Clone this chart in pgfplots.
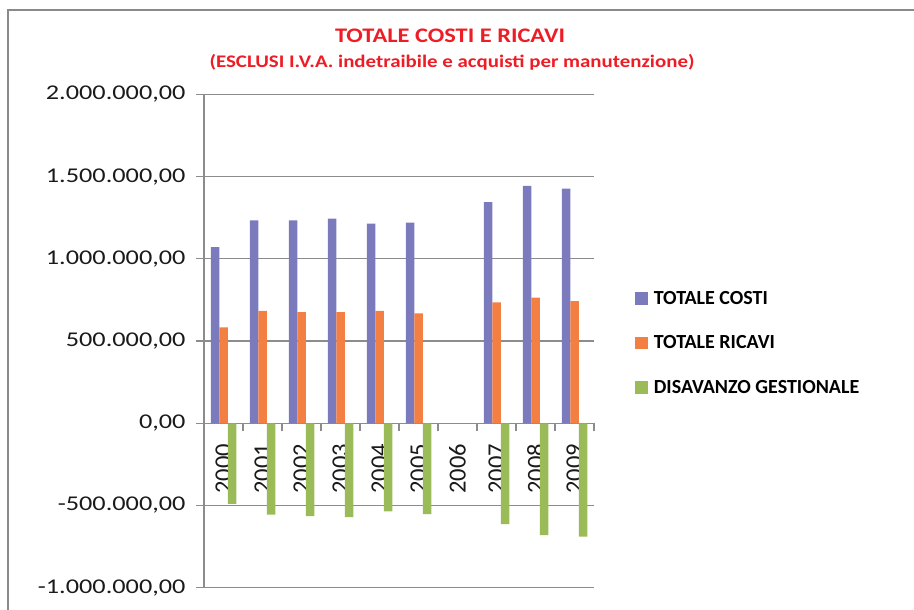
\documentclass[border=0pt]{standalone}
\usepackage{pgfplots}
\pgfplotsset{compat=1.18}
\usepackage{fontspec}
\setmainfont{Carlito}
\newfontfamily\ylabfont{Carlito}[FakeStretch=1.25]
\newfontfamily\titlefont{Carlito}[FakeStretch=1.18]
\definecolor{cblue}{HTML}{7A7ABD}
\definecolor{corange}{HTML}{F47F43}
\definecolor{cgreen}{HTML}{9BBB59}
\definecolor{gridgray}{HTML}{8C8C8C}
\definecolor{titlered}{HTML}{EE1C25}
\definecolor{framegray}{HTML}{8A8A8A}
\definecolor{labelblack}{HTML}{1A1A1A}
\begin{document}
\begin{tikzpicture}
\useasboundingbox (0bp,0bp) rectangle (914bp,610bp);
\draw[line width=2bp, framegray] (8bp,0bp) -- (8bp,600bp) -- (914bp,600bp);
\node[text=titlered, font=\titlefont\bfseries\fontsize{20.7bp}{24bp}\selectfont] at (450bp,574bp) {TOTALE COSTI E RICAVI};
\node[text=titlered, font=\titlefont\bfseries\fontsize{17.7bp}{21bp}\selectfont] at (452bp,548bp) {(ESCLUSI I.V.A. indetraibile e acquisti per manutenzione)};
\begin{axis}[
  at={(204bp,22.3bp)}, anchor=south west,
  scale only axis, width=390bp, height=493.2bp,
  ymin=-1000000, ymax=2000000,
  ytick={-1000000,-500000,0,500000,1000000,1500000,2000000},
  xmin=-0.5, xmax=9.5,
  xtick={-0.5,0.5,1.5,2.5,3.5,4.5,5.5,6.5,7.5,8.5,9.5},
  xticklabels={},
  extra x ticks={0,1,2,3,4,5,6,7,8,9},
  extra x tick labels={2000,2001,2002,2003,2004,2005,2006,2007,2008,2009},
  extra x tick style={major tick length=0pt, grid=none},
  axis y line*=left, axis x line*=middle,
  axis line style={gridgray, line width=1.2bp, -},
  ymajorgrids, grid style={gridgray, line width=1.2bp},
  tick style={gridgray, line width=1.2bp},
  tick align=outside,
  major tick length=8bp,
  xticklabel style={rotate=90, anchor=east, font=\fontsize{24.5bp}{27bp}\selectfont, text=labelblack},
  xticklabel shift=17bp,
  yticklabel style={font=\ylabfont\fontsize{21bp}{24bp}\selectfont, text=labelblack, xshift=-7bp,
    /pgf/number format/.cd, fixed, fixed zerofill, precision=2,
    set decimal separator={,}, set thousands separator={.}, assume math mode=true},
  scaled y ticks=false,
  ybar=0pt, bar width=8.5bp,
  legend style={at={(1.105,0.6056)}, anchor=north west, draw=none, fill=none,
    font=\bfseries\fontsize{20bp}{22bp}\selectfont, row sep=26bp, inner sep=0pt,
    /tikz/every odd column/.append style={column sep=4bp}},
  legend cell align=left,
]
\addplot[fill=cblue, draw=none, legend image code/.code={\fill[cblue] (0bp,-6.35bp) rectangle (12.7bp,6.35bp);}] coordinates {
 (0,1072000) (1,1235000) (2,1235000) (3,1245000) (4,1215000) (5,1221000) (7,1346000) (8,1444000) (9,1428000)};
\addplot[fill=corange, draw=none, legend image code/.code={\fill[corange] (0bp,-6.35bp) rectangle (12.7bp,6.35bp);}] coordinates {
 (0,584000) (1,684000) (2,676000) (3,676000) (4,684000) (5,668000) (7,735000) (8,765000) (9,743000)};
\addplot[fill=cgreen, draw=none, legend image code/.code={\fill[cgreen] (0bp,-6.35bp) rectangle (12.7bp,6.35bp);}] coordinates {
 (0,-490000) (1,-556000) (2,-564000) (3,-570000) (4,-535000) (5,-553000) (7,-613000) (8,-680000) (9,-690000)};
\legend{TOTALE COSTI, TOTALE RICAVI, DISAVANZO GESTIONALE}
\end{axis}
\end{tikzpicture}
\end{document}
